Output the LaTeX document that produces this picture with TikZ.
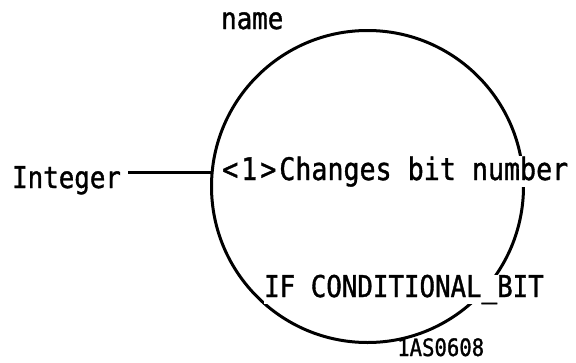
\documentclass[tikz,border=0pt]{standalone}
\usepackage{fontspec}
\newfontfamily\diagfont[FakeStretch=0.86,FakeBold=1.2]{DejaVu Sans Mono}
\usepackage{tikz}
\usetikzlibrary{calc,positioning}

\tikzset{
  lbl/.style={inner sep=0pt,anchor=base west,font=\diagfont\fontsize{30}{34}\selectfont},
  tag/.style={inner sep=0pt,anchor=base west,font=\diagfont\fontsize{24}{28}\selectfont},
  bubble/.style={draw,circle,line width=3pt,minimum size=312pt,inner sep=0pt}
}

\begin{document}
\begin{tikzpicture}[x=1pt,y=-1pt]
    \useasboundingbox (0,0) rectangle (576,362);

    \node (proc) at (367.5,186.5) [bubble] {};

    \node (name) at (221,29) [lbl] {name};
    \node (integer) at (12,188) [lbl] {Integer};
    \node (changes) at (222,180) [lbl,fill=white,font=\diagfont\fontsize{31}{34}\selectfont]
      {<\kern3pt1\kern3pt>\kern3pt Changes bit number};
    \node (cond) at (264,297) [lbl,fill=white] {IF CONDITIONAL\_BIT};
    \node (figid) at (397,356) [tag] {1AS0608};

    \draw[line width=3pt] ([xshift=7pt]integer.east |- proc.175) -- (proc.175);

\end{tikzpicture}
\end{document}
